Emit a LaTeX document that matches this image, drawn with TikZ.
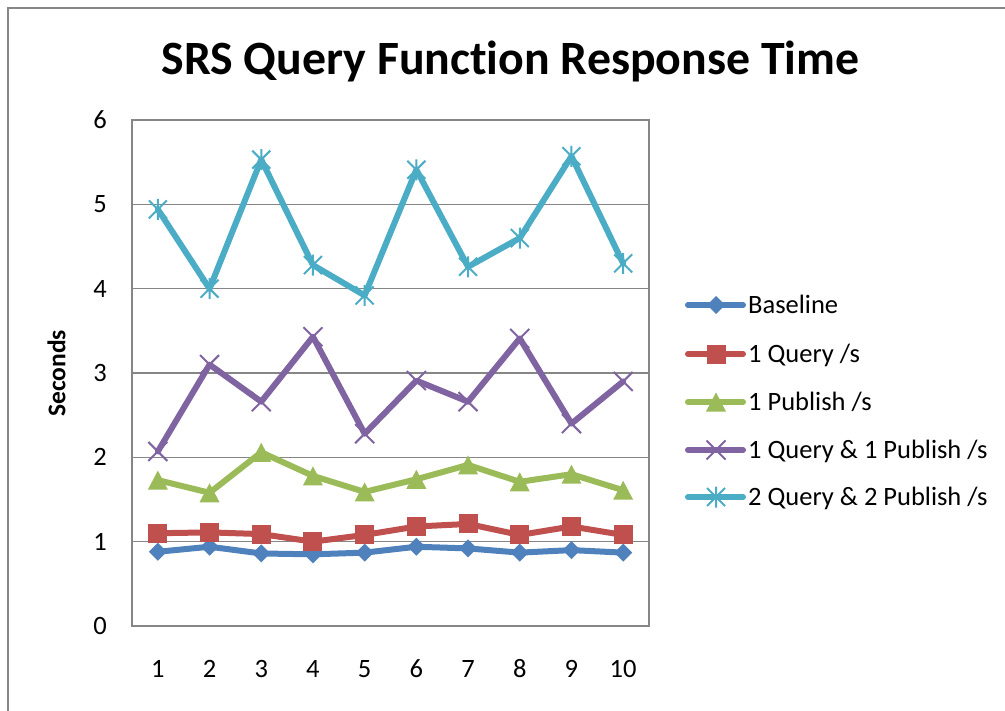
\documentclass[tikz,border=0pt]{standalone}
\usepackage{fontspec}
\setmainfont{Carlito}[Ligatures=NoCommon]

\definecolor{sBlue}{HTML}{4F81BD}
\definecolor{sRed}{HTML}{C0504D}
\definecolor{sGreen}{HTML}{9BBB59}
\definecolor{sPurple}{HTML}{8064A2}
\definecolor{sCyan}{HTML}{4BACC6}
\definecolor{axisGray}{HTML}{868686}

\tikzset{
  frameline/.style={draw=axisGray, line width=1.6bp},
  gridline/.style={draw=axisGray, line width=1.6bp},
  tick/.style={inner sep=0pt, font=\fontsize{26.5bp}{30bp}\selectfont},
  legendtext/.style={inner sep=0pt, anchor=base west, font=\fontsize{26.5bp}{30bp}\selectfont},
  seriesline/.style={line width=6bp, line join=round, line cap=round},
  % marker shapes (units are 1bp, y pointing down)
  mdiamond/.pic={\fill (0,-9) -- (9,0) -- (0,9) -- (-9,0) -- cycle;},
  msquare/.pic={\fill (-9.5,-9.5) rectangle (9.5,9.5);},
  mtriangle/.pic={\fill (-10,9.5) -- (10,9.5) -- (0,-9.5) -- cycle;},
  mcross/.pic={\draw[line width=2bp] (-9.5,-9.5) -- (9.5,9.5) (-9.5,9.5) -- (9.5,-9.5);},
  mstar/.pic={\draw[line width=2bp] (-9,-9) -- (9,9) (-9,9) -- (9,-9) (0,-10.5) -- (0,10.5);},
}

% value -> vertical position, category -> horizontal position
\newcommand{\yv}[1]{626-84.33*(#1)}
\newcommand{\xc}[1]{106.15+51.7*(#1)}

\begin{document}
\begin{tikzpicture}[x=1bp, y=-1bp]
  \useasboundingbox (0,0) rectangle (1005,711);
  \fill[white] (0,0) rectangle (1005,711);

  % chart frame (right and bottom edges lie outside the page)
  \draw[frameline] (8,8) rectangle (1030,740);

  % title
  \node[inner sep=0pt, anchor=base, font=\fontsize{47.8bp}{52bp}\selectfont\bfseries]
    (title) at (510.5,75) {SRS Query Function Response Time};

  % gridlines and plot area
  \foreach \v in {1,...,5}
    \draw[gridline] (132,{\yv{\v}}) -- (649,{\yv{\v}});
  \draw[gridline] (132,120) rectangle (649,626);

  % axis labels
  \foreach \v in {0,...,6}
    \node[tick, anchor=base east] (ytick\v) at (107,{\yv{\v}+8.4}) {\v};
  \foreach \i in {1,...,10}
    \node[tick, anchor=base] (xtick\i) at ({\xc{\i}},677.5) {\i};
  \node[inner sep=0pt, rotate=90, font=\fontsize{25.5bp}{30bp}\selectfont\bfseries]
    (ytitle) at (56.5,373.5) {Seconds};

  % data points
  \foreach \v [count=\i] in {0.88,0.94,0.86,0.85,0.87,0.94,0.92,0.87,0.90,0.87}
    \coordinate (b\i) at ({\xc{\i}},{\yv{\v}});
  \foreach \v [count=\i] in {1.10,1.11,1.09,1.00,1.08,1.18,1.21,1.08,1.18,1.08}
    \coordinate (q\i) at ({\xc{\i}},{\yv{\v}});
  \foreach \v [count=\i] in {1.73,1.58,2.06,1.78,1.59,1.74,1.91,1.71,1.80,1.61}
    \coordinate (p\i) at ({\xc{\i}},{\yv{\v}});
  \foreach \v [count=\i] in {2.07,3.10,2.66,3.43,2.28,2.91,2.66,3.41,2.40,2.90}
    \coordinate (qp\i) at ({\xc{\i}},{\yv{\v}});
  \foreach \v [count=\i] in {4.94,4.00,5.53,4.28,3.92,5.41,4.26,4.60,5.57,4.30}
    \coordinate (qq\i) at ({\xc{\i}},{\yv{\v}});

  % series: line first, then markers
  \draw[seriesline, sBlue] (b1) \foreach \i in {2,...,10} {-- (b\i)};
  \foreach \i in {1,...,10} \pic[sBlue] at (b\i) {mdiamond};

  \draw[seriesline, sRed] (q1) \foreach \i in {2,...,10} {-- (q\i)};
  \foreach \i in {1,...,10} \pic[sRed] at (q\i) {msquare};

  \draw[seriesline, sGreen] (p1) \foreach \i in {2,...,10} {-- (p\i)};
  \foreach \i in {1,...,10} \pic[sGreen] at (p\i) {mtriangle};

  \draw[seriesline, sPurple] (qp1) \foreach \i in {2,...,10} {-- (qp\i)};
  \foreach \i in {1,...,10} \pic[sPurple] at (qp\i) {mcross};

  \draw[seriesline, sCyan] (qq1) \foreach \i in {2,...,10} {-- (qq\i)};
  \foreach \i in {1,...,10} \pic[sCyan] at (qq\i) {mstar};

  % legend
  \foreach \y/\col/\mk/\txt [count=\k] in {
      305/sBlue/mdiamond/{Baseline},
      354/sRed/msquare/{1 Query /s},
      402/sGreen/mtriangle/{1 Publish /s},
      450/sPurple/mcross/{1 Query \& 1 Publish /s},
      497/sCyan/mstar/{2 Query \& 2 Publish /s}} {
    \coordinate (lgA\k) at (688,\y);
    \coordinate (lgB\k) at (743,\y);
    \draw[seriesline, \col] (lgA\k) -- (lgB\k);
    \pic[\col] at (716,\y) {\mk};
    \node[legendtext] (lgT\k) at (748,\y+8.5) {\txt};
  }
\end{tikzpicture}
\end{document}
